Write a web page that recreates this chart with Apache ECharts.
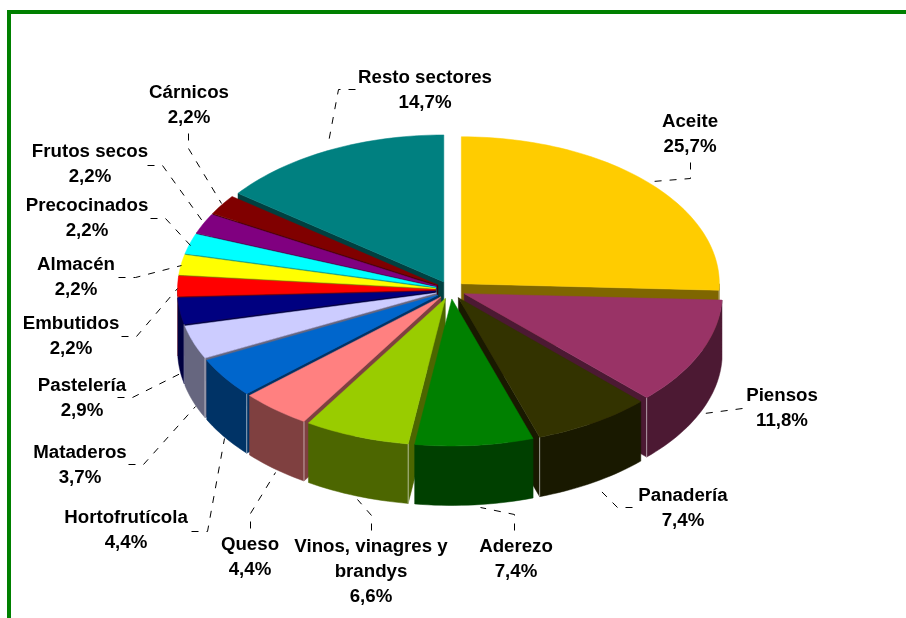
<!DOCTYPE html>
<html lang="es">
<head>
    <meta charset="UTF-8">
    <title>Sectores</title>
    <script src="https://cdn.jsdelivr.net/npm/echarts@6/dist/echarts.min.js"></script>
    <style>
        html, body { margin: 0; padding: 0; background: #fff; }
        #main { width: 906px; height: 618px; }
    </style>
</head>
<body>
<div id="main"></div>
<script>
    var categories = ['Aceite', 'Piensos', 'Panadería', 'Aderezo', 'Vinos, vinagres y\nbrandys', 'Queso', 'Hortofrutícola',
        'Mataderos', 'Pastelería', 'Embutidos', 'Almacén', 'Precocinados', 'Frutos secos', 'Cárnicos', 'Resto sectores'];
    var values = [25.7, 11.8, 7.4, 7.4, 6.6, 4.4, 4.4, 3.7, 2.9, 2.2, 2.2, 2.2, 2.2, 2.2, 14.7];
    var colors = ['#FFCC00', '#993366', '#333300', '#008000', '#99CC00', '#FF8080', '#0066CC',
        '#CCCCFF', '#000080', '#FF0000', '#FFFF00', '#00FFFF', '#800080', '#800000', '#008080'];

    // label centres, same order as categories
    var labelCenters = [[690, 134], [782, 408], [683, 508], [516, 559], [371, 572], [250, 557], [126, 530],
        [80, 465], [82, 398], [71, 336], [76, 277], [87, 218], [90, 164], [189, 105], [425, 90]];
    // dashed leader lines, label end first
    var leaders = [
        [[690, 162], [690, 178], [652, 181]],
        [[742, 408], [704, 413]],
        [[632, 507], [617, 507], [600, 490]],
        [[514, 530], [514, 514], [480, 507]],
        [[371, 530], [371, 515], [357, 499]],
        [[250, 528], [250, 513], [275, 472]],
        [[191, 531], [207, 531], [224, 438]],
        [[128, 464], [143, 464], [195, 406]],
        [[117, 397], [132, 397], [180, 373]],
        [[121, 336], [136, 336], [177, 288]],
        [[118, 277], [135, 277], [181, 265]],
        [[150, 218], [165, 218], [190, 245]],
        [[147, 165], [162, 165], [203, 222]],
        [[188, 133], [188, 148], [221, 203]],
        [[355, 89], [338, 89], [328, 142]]
    ];

    // pie geometry
    var cx = 450.5, cy = 290, rx = 258, ry = 147, depth = 59.5, explode = 15, squash = 0.6;

    var total = values.reduce(function (a, b) { return a + b; }, 0);
    var slices = [];
    var acc = 0;
    values.forEach(function (v, i) {
        var start = acc / total * 360;
        acc += v;
        var end = acc / total * 360;
        slices.push({index: i, start: start, end: end, mid: (start + end) / 2});
    });
    function rad(d) { return d * Math.PI / 180; }
    // back slices first, so that the front ones paint over them
    var drawOrder = slices.slice().sort(function (a, b) {
        return Math.cos(rad(b.mid)) - Math.cos(rad(a.mid));
    }).map(function (s) { return [s.index]; });

    function darken(hex) {
        var n = parseInt(hex.slice(1), 16);
        return 'rgb(' + ((n >> 16) >> 1) + ',' + (((n >> 8) & 255) >> 1) + ',' + ((n & 255) >> 1) + ')';
    }
    function arc(o, from, to, dy) {
        var pts = [];
        var steps = Math.max(2, Math.ceil((to - from) / 1.5));
        for (var k = 0; k <= steps; k++) {
            var a = rad(from + (to - from) * k / steps);
            pts.push([o[0] + rx * Math.sin(a), o[1] - ry * Math.cos(a) + dy]);
        }
        return pts;
    }
    function poly(points, fill) {
        return {type: 'polygon', shape: {points: points}, style: {fill: fill, stroke: fill, lineWidth: 0.5}};
    }
    function cutFace(o, angle, fill) {
        var p = arc(o, angle, angle, 0)[0];
        return poly([o, p, [p[0], p[1] + depth], [o[0], o[1] + depth]], fill);
    }
    function cornerLine(o, angle) {
        var p = arc(o, angle, angle, 0)[0];
        return {type: 'line', shape: {x1: p[0], y1: p[1], x2: p[0], y2: p[1] + depth},
            style: {stroke: 'rgba(255,255,255,0.55)', lineWidth: 1}};
    }

    function renderSlice(params, api) {
        var s = slices[api.value(0)];
        var top = colors[s.index];
        var side = darken(top);
        var m = rad(s.mid);
        var o = [cx + explode * Math.sin(m), cy - explode * squash * Math.cos(m)];
        var children = [];
        var from = Math.max(s.start, 90), to = Math.min(s.end, 270);
        // cut faces that look at the viewer
        if (s.start > 180) children.push(cutFace(o, s.start, side));
        if (s.end < 180) children.push(cutFace(o, s.end, side));
        if (from < to) {
            children.push(poly(arc(o, from, to, 0).concat(arc(o, from, to, depth).reverse()), side));
        }
        if (s.start > 180 && s.start < 270) children.push(cornerLine(o, s.start));
        if (s.end < 180 && s.end > 90) children.push(cornerLine(o, s.end));
        children.push(poly([o].concat(arc(o, s.start, s.end, 0)), top));
        return {type: 'group', children: children};
    }

    function renderLabel(params, api) {
        var i = api.value(0);
        var c = labelCenters[i];
        var text = categories[i] + '\n' + values[i].toFixed(1).replace('.', ',') + '%';
        var pts = leaders[i].map(function (p) { return [p[0] + 0.5, p[1] + 0.5]; });
        return {type: 'group', children: [
            {type: 'polyline', shape: {points: pts},
                style: {fill: null, stroke: '#000', lineWidth: 1, lineDash: [7, 8]}},
            {type: 'text', x: c[0], y: c[1], style: {
                text: text, fill: '#000', align: 'center', verticalAlign: 'middle',
                fontFamily: '"Liberation Sans", Arial, sans-serif', fontWeight: 'bold', fontSize: 18.7, lineHeight: 25
            }}
        ]};
    }

    var myChart = echarts.init(document.getElementById('main'), null, {renderer: 'canvas'});
    myChart.setOption({
        animation: false,
        backgroundColor: '#fff',
        graphic: [
            {type: 'rect', shape: {x: 7, y: 10, width: 4, height: 608}, style: {fill: '#008000'}},
            {type: 'rect', shape: {x: 7, y: 10, width: 899, height: 4}, style: {fill: '#008000'}}
        ],
        series: [
            {type: 'custom', coordinateSystem: 'none', silent: true, renderItem: renderSlice, data: drawOrder, z: 2},
            {type: 'custom', coordinateSystem: 'none', silent: true, renderItem: renderLabel,
                data: categories.map(function (c, i) { return [i]; }), z: 3}
        ]
    });
</script>
</body>
</html>
